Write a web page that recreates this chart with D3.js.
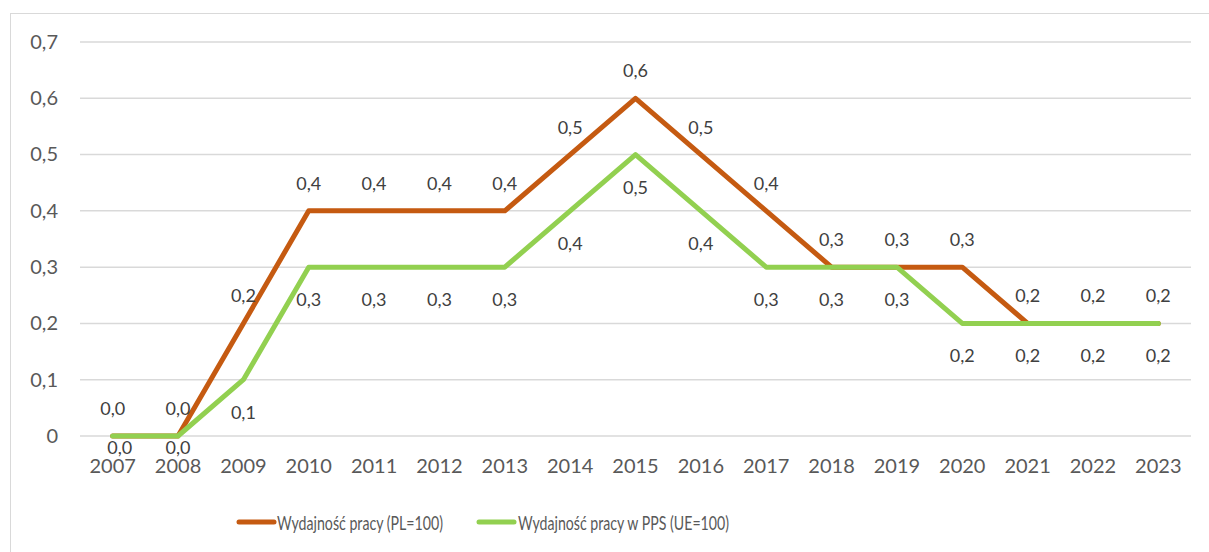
<!DOCTYPE html>
<html>
<head>
<meta charset="utf-8">
<script src="https://cdn.jsdelivr.net/npm/d3@7"></script>
<style>
  html, body { margin: 0; padding: 0; background: #fff; }
  svg { display: block; font-family: Lato, "Open Sans", sans-serif; }
</style>
</head>
<body>
<svg id="chart" width="1209" height="552"></svg>
<script>
const years = ["2007","2008","2009","2010","2011","2012","2013","2014","2015","2016","2017","2018","2019","2020","2021","2022","2023"];
const seriesNames = ["Wydajność pracy (PL=100)", "Wydajność pracy w PPS (UE=100)"];
const valuesPL = [0.0, 0.0, 0.2, 0.4, 0.4, 0.4, 0.4, 0.5, 0.6, 0.5, 0.4, 0.3, 0.3, 0.3, 0.2, 0.2, 0.2];
const valuesPPS = [0.0, 0.0, 0.1, 0.3, 0.3, 0.3, 0.3, 0.4, 0.5, 0.4, 0.3, 0.3, 0.3, 0.2, 0.2, 0.2, 0.2];
const yTicks = [0, 0.1, 0.2, 0.3, 0.4, 0.5, 0.6, 0.7];
const colors = ["#C55A11", "#92D050"];

(function () {
const svg = d3.select("#chart");
const fmt = v => v === 0 ? "0" : d3.format(".1f")(v).replace(".", ",");
const fmtLabel = v => d3.format(".1f")(v).replace(".", ",");

// outer frame
svg.append("rect").attr("x", 10.5).attr("y", 13.5).attr("width", 1250).attr("height", 600)
  .attr("fill", "none").attr("stroke", "#D9D9D9").attr("stroke-width", 1);

const mLeft = 80, mRight = 1191, mTop = 42, mBottom = 436;
const x = d3.scaleBand().domain(years).range([mLeft, mRight]);
const y = d3.scaleLinear().domain([0, 0.7]).range([mBottom, mTop]);
const cx = d => x(d) + x.bandwidth() / 2;

// gridlines
svg.append("g").selectAll("line").data(yTicks).join("line")
  .attr("x1", mLeft).attr("x2", mRight)
  .attr("y1", d => y(d)).attr("y2", d => y(d))
  .attr("stroke", "#D9D9D9").attr("stroke-width", 1.5);

// y axis labels
const yAxis = d3.axisLeft(y).tickValues(yTicks).tickFormat(fmt).tickSize(0).tickPadding(0);
const gy = svg.append("g").attr("transform", `translate(58,0)`).call(yAxis);
gy.select(".domain").remove();
gy.selectAll("text").attr("font-size", 20).attr("fill", "#595959").attr("font-family", "Lato");

// x axis labels
const xAxis = d3.axisBottom(x).tickSize(0).tickPadding(0);
const gx = svg.append("g").attr("transform", `translate(0,${mBottom + 23})`).call(xAxis);
gx.select(".domain").remove();
gx.selectAll("text").attr("font-size", 20).attr("fill", "#595959").attr("font-family", "Lato");

const line = d3.line().x((d, i) => cx(years[i])).y(d => y(d));
const series = [valuesPL, valuesPPS];

series.forEach((vals, s) => {
  svg.append("path").datum(vals).attr("d", line)
    .attr("fill", "none").attr("stroke", colors[s]).attr("stroke-width", 5)
    .attr("stroke-linecap", "round").attr("stroke-linejoin", "round");
});

// data labels: PL above, PPS below
svg.append("g").selectAll("text").data(valuesPL).join("text")
  .attr("x", (d, i) => cx(years[i]))
  .attr("y", d => y(d) - 28)
  .attr("text-anchor", "middle").attr("dominant-baseline", "central")
  .attr("font-size", 18).attr("fill", "#404040")
  .text(fmtLabel);

svg.append("g").selectAll("text").data(valuesPPS).join("text")
  .attr("x", (d, i) => cx(years[i]) + (i === 0 ? 7 : 0))
  .attr("y", d => y(d) + (d === 0 ? 11 : 32))
  .attr("text-anchor", "middle").attr("dominant-baseline", "central")
  .attr("font-size", 18).attr("fill", "#404040")
  .text(fmtLabel);

// legend
const legendItems = [{x: 239, tx: 277, w: 166}, {x: 479, tx: 518, w: 211}];
legendItems.forEach((it, s) => {
  svg.append("line").attr("x1", it.x).attr("x2", it.x + 35).attr("y1", 522).attr("y2", 522)
    .attr("stroke", colors[s]).attr("stroke-width", 5).attr("stroke-linecap", "round");
  svg.append("text").attr("x", it.tx).attr("y", 522).attr("dominant-baseline", "central")
    .attr("font-size", 19).attr("fill", "#595959")
    .attr("textLength", it.w).attr("lengthAdjust", "spacingAndGlyphs")
    .text(seriesNames[s]);
});
})();
</script>
</body>
</html>
